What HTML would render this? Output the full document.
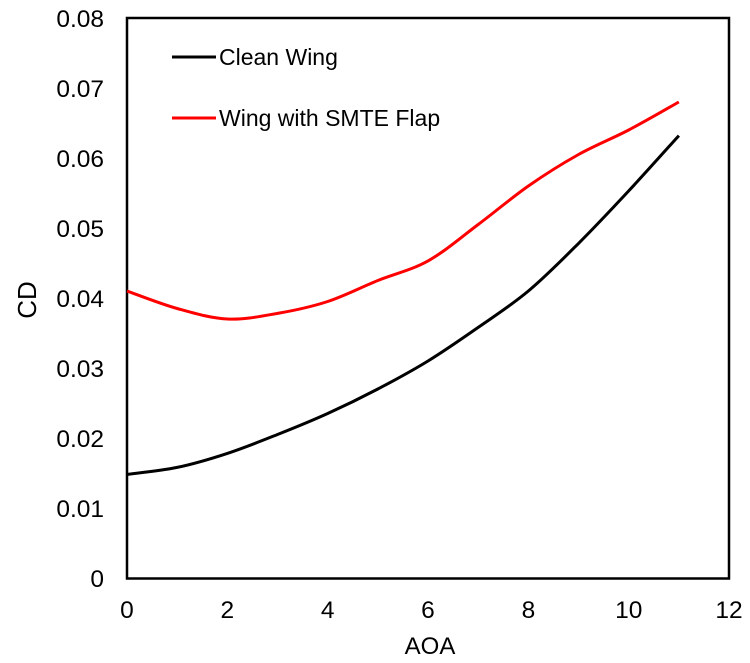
<!DOCTYPE html>
<html><head><style>body{margin:0;background:#fff}svg{display:block}</style></head><body>
<svg width="750" height="663" xmlns="http://www.w3.org/2000/svg" font-family="Liberation Sans, Arial, sans-serif">
<rect x="127" y="18" width="602" height="560.5" fill="none" stroke="#000" stroke-width="2.5"/>
<g font-size="24.5" text-anchor="end" fill="#000">
<text x="104" y="587">0</text><text x="104" y="517">0.01</text><text x="104" y="447">0.02</text><text x="104" y="377">0.03</text><text x="104" y="307">0.04</text><text x="104" y="237">0.05</text><text x="104" y="167">0.06</text><text x="104" y="97">0.07</text><text x="104" y="27">0.08</text>
</g>
<g font-size="24.5" text-anchor="middle" fill="#000">
<text x="127" y="618">0</text><text x="227.3" y="618">2</text><text x="327.7" y="618">4</text><text x="428" y="618">6</text><text x="528.4" y="618">8</text><text x="628.7" y="618">10</text><text x="729" y="618">12</text>
<text x="430" y="654" font-size="24">AOA</text>
<text transform="translate(36,300) rotate(-90)" font-size="26">CD</text>
</g>
<path id="pb" fill="none" stroke="#000" stroke-width="3" stroke-linejoin="round" d=""/>
<path id="pr" fill="none" stroke="#f00" stroke-width="3" stroke-linejoin="round" d=""/>
<line x1="172" y1="57" x2="216" y2="57" stroke="#000" stroke-width="3"/>
<text x="219" y="65" font-size="23">Clean Wing</text>
<line x1="172" y1="118" x2="216" y2="118" stroke="#f00" stroke-width="3"/>
<text x="219" y="126" font-size="23">Wing with SMTE Flap</text>
</svg>
<script>
function cr(p){var d="M"+p[0][0]+","+p[0][1];for(var i=0;i<p.length-1;i++){var a=p[i-1]||p[i],b=p[i],c=p[i+1],e=p[i+2]||c;
d+=" C"+(b[0]+(c[0]-a[0])/6)+","+(b[1]+(c[1]-a[1])/6)+" "+(c[0]-(e[0]-b[0])/6)+","+(c[1]-(e[1]-b[1])/6)+" "+c[0]+","+c[1];}return d;}
function pts(v){return v.map(function(y,i){return [127+50.17*i,578-7000*y];});}
document.getElementById("pb").setAttribute("d",cr(pts([0.0148,0.0158,0.0178,0.0205,0.0235,0.027,0.031,0.0358,0.041,0.0478,0.0553,0.0632])));
document.getElementById("pr").setAttribute("d",cr(pts([0.041,0.0385,0.037,0.0378,0.0395,0.0425,0.0453,0.0505,0.056,0.0605,0.064,0.068])));
</script>
</body></html>
